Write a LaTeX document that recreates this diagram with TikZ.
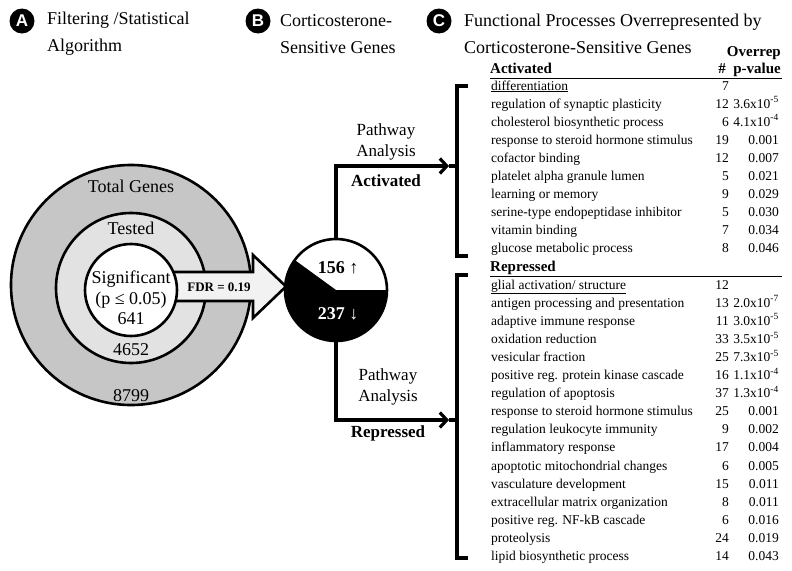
\documentclass[tikz,border=0pt]{standalone}
\usepackage{fontspec}
\setmainfont{LiberationSerif}[BoldFont=LiberationSerif-Bold, ItalicFont=LiberationSerif-Italic, BoldItalicFont=LiberationSerif-BoldItalic]
\newfontfamily\badgefont{Liberation Sans}
\usetikzlibrary{arrows.meta}

\tikzset{
  ring/.style={circle, draw, line width=2.6pt, inner sep=0pt},
  badge/.style={circle, fill=black, text=white, inner sep=0pt, minimum size=25pt, font=\badgefont\bfseries\fontsize{17}{17}\selectfont},
  title/.style={anchor=west, align=left, inner sep=0pt, font=\fontsize{18}{27}\selectfont},
  circtxt/.style={inner sep=0pt, align=center, font=\fontsize{18}{20.5}\selectfont},
  conn/.style={line width=3.2pt},
  brk/.style={line width=3.2pt},
  item/.style={anchor=west, inner sep=0pt, text height=9pt, text depth=3pt, font=\fontsize{13.5}{16}\selectfont},
  num/.style={item, anchor=east},
  head/.style={inner sep=0pt, text height=10pt, text depth=3pt, font=\fontsize{15}{18}\selectfont\bfseries},
}

% one line of the table: name, y, process, #, p-value
\newcommand{\gorow}[5]{%
  \node[item] (#1) at (491,#2) {#3};
  \node[num] (#1n) at (729,#2) {#4};
  \node[num] (#1p) at (779,#2) {#5};}

\begin{document}
\begin{tikzpicture}[x=1pt,y=-1pt]
        \useasboundingbox (0,0) rectangle (792,570);

        % titles
        \node[badge] (bA) at (22,21) {A};
        \node[title] (tA) at (47,34) {Filtering /Statistical\\Algorithm};
        \node[badge] (bB) at (258,21) {B};
        \node[title] (tB) at (280,34) {Corticosterone-\\Sensitive Genes};
        \node[badge] (bC) at (439,21) {C};
        \node[title] (tC) at (464,34) {Functional Processes Overrepresented by\\Corticosterone-Sensitive Genes};

        % gene sets
        \node[ring, fill=gray!45, minimum size=240pt] (total) at (131,285) {};
        \node[ring, fill=gray!23, minimum size=150pt] (tested) at (131,288) {};
        \filldraw[fill=gray!10, line width=2.6pt, line join=miter]
            (150,272) -- (253,272) -- (253,255) -- (286,286.5) -- (253,318) -- (253,301) -- (150,301);
        \node[ring, fill=white, minimum size=92pt] (signif) at (131,290) {};

        \node[circtxt] (ltotal) at (131,186) {Total Genes};
        \node[circtxt] (ltested) at (131,228) {Tested};
        \node[circtxt] (lsignif) at (131,298) {Significant\\(p ≤ 0.05)\\641};
        \node[circtxt] (ntested) at (131,350) {4652};
        \node[circtxt] (ntotal) at (131,396) {8799};
        \node[inner sep=0pt, font=\fontsize{13}{13}\selectfont\bfseries] (fdr) at (219,287) {FDR = 0.19};

        % pie of up / down genes
        \node[circle, fill=white, minimum size=102pt, inner sep=0pt] (pie) at (336,290) {};
        \fill (pie.center) -- ++(0:51) arc[start angle=0, end angle=216, radius=51] -- cycle;
        \draw[line width=2.6pt] (pie.center) circle (51);
        \node[inner sep=0pt, font=\fontsize{18}{18}\selectfont\bfseries] (up) at (338,268) {156 ↑};
        \node[inner sep=0pt, text=white, font=\fontsize{18}{18}\selectfont\bfseries] (down) at (338,314) {237 ↓};

        % pathway analysis
        \coordinate (actTip) at (449,166);
        \coordinate (actIn) at (457,166);
        \coordinate (repTip) at (449,420);
        \coordinate (repIn) at (457,420);
        \draw[conn, -{Straight Barb[length=7pt, width=15pt]}] (pie.north) |- (actTip);
        \draw[conn] (actTip) -- (actIn);
        \draw[conn, -{Straight Barb[length=7pt, width=15pt]}] (pie.south) |- (repTip);
        \draw[conn] (repTip) -- (repIn);
        \node[circtxt, font=\fontsize{17}{21}\selectfont] (pwA) at (386,142) {Pathway\\Analysis};
        \node[inner sep=0pt, font=\fontsize{17}{17}\selectfont\bfseries] (lact) at (386,181) {Activated};
        \node[circtxt, font=\fontsize{17}{21}\selectfont] (pwR) at (388,387) {Pathway\\Analysis};
        \node[inner sep=0pt, font=\fontsize{17}{17}\selectfont\bfseries] (lrep) at (388,433) {Repressed};

        % brackets
        \draw[brk] (468,86) -- (457,86) -- (457,256) -- (468,256);
        \draw[brk] (468,275) -- (457,275) -- (457,558) -- (468,558);

        % table heads
        \node[head, anchor=east] (hover) at (781,53) {Overrep};
        \node[head, anchor=east] (hpval) at (781,70) {p-value};
        \node[head] (hnum) at (722,70) {\#};
        \node[head, anchor=west] (hact) at (490,70) {Activated};
        \draw[line width=1.6pt] (490,78.5) -- (782,78.5);
        \node[head, anchor=west] (hrep) at (490,268) {Repressed};
        \draw[line width=1.6pt] (490,276.5) -- (782,276.5);

        % activated processes
        \gorow{a1}{87}{\underline{differentiation}}{7}{}
        \gorow{a2}{105.1}{regulation of synaptic plasticity}{12}{3.6x10\textsuperscript{-5}}
        \gorow{a3}{123.2}{cholesterol biosynthetic process}{6}{4.1x10\textsuperscript{-4}}
        \gorow{a4}{141.3}{response to steroid hormone stimulus}{19}{0.001}
        \gorow{a5}{159.4}{cofactor binding}{12}{0.007}
        \gorow{a6}{177.5}{platelet alpha granule lumen}{5}{0.021}
        \gorow{a7}{195.6}{learning or memory}{9}{0.029}
        \gorow{a8}{213.7}{serine-type endopeptidase inhibitor}{5}{0.030}
        \gorow{a9}{231.8}{vitamin binding}{7}{0.034}
        \gorow{a10}{249.9}{glucose metabolic process}{8}{0.046}

        % repressed processes
        \gorow{r1}{286}{\underline{glial activation/ structure}}{12}{}
        \gorow{r2}{304.1}{antigen processing and presentation}{13}{2.0x10\textsuperscript{-7}}
        \gorow{r3}{322.2}{adaptive immune response}{11}{3.0x10\textsuperscript{-5}}
        \gorow{r4}{340.3}{oxidation reduction}{33}{3.5x10\textsuperscript{-5}}
        \gorow{r5}{358.4}{vesicular fraction}{25}{7.3x10\textsuperscript{-5}}
        \gorow{r6}{376.5}{positive reg. protein kinase cascade}{16}{1.1x10\textsuperscript{-4}}
        \gorow{r7}{394.6}{regulation of apoptosis}{37}{1.3x10\textsuperscript{-4}}
        \gorow{r8}{412.7}{response to steroid hormone stimulus}{25}{0.001}
        \gorow{r9}{430.8}{regulation leukocyte immunity}{9}{0.002}
        \gorow{r10}{448.9}{inflammatory response}{17}{0.004}
        \gorow{r11}{467}{apoptotic mitochondrial changes}{6}{0.005}
        \gorow{r12}{485.1}{vasculature development}{15}{0.011}
        \gorow{r13}{503.2}{extracellular matrix organization}{8}{0.011}
        \gorow{r14}{521.3}{positive reg. NF-kB cascade}{6}{0.016}
        \gorow{r15}{539.4}{proteolysis}{24}{0.019}
        \gorow{r16}{557.5}{lipid biosynthetic process}{14}{0.043}
    \end{tikzpicture}
\end{document}
